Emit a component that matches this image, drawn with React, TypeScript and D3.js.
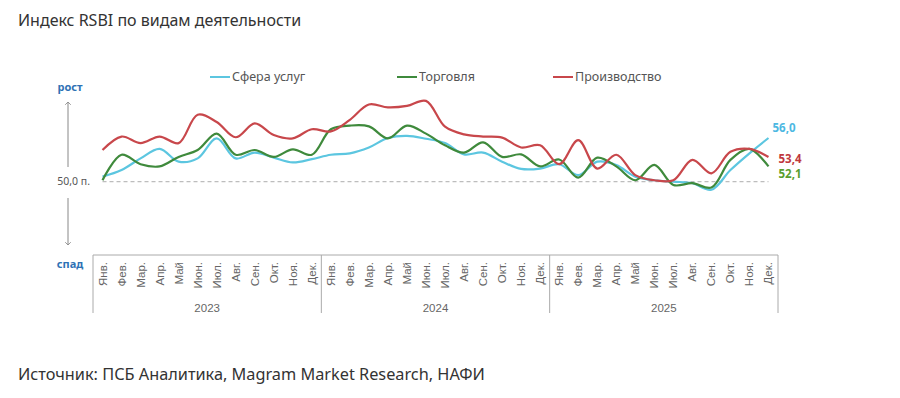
import React from "react";
import * as d3 from "d3";

// month labels and years on the x axis
const months = ["Янв.", "Фев.", "Мар.", "Апр.", "Май", "Июн.", "Июл.", "Авг.", "Сен.", "Окт.", "Ноя.", "Дек."];
const years = ["2023", "2024", "2025"];

// RSBI values (Jan 2023 .. Dec 2025)
const services = [
  50.7, 51.6, 53.2, 54.5, 52.75, 53.2, 55.95, 53.2, 54.0, 53.3, 52.65, 53.1,
  53.7, 53.9, 54.7, 56.0, 56.3, 55.9, 55.3, 53.75, 54.0, 52.75, 51.75, 51.8,
  52.4, 50.9, 52.75, 52.3, 50.7, 50.2, 50.0, 49.8, 48.9, 51.6, 53.9, 56.0,
];
const trade = [
  50.2, 53.7, 52.4, 52.1, 53.4, 54.35, 56.6, 53.7, 54.35, 53.4, 54.45, 53.7,
  57.2, 57.7, 57.6, 55.95, 57.7, 56.6, 55.0, 54.0, 55.4, 53.4, 53.75, 52.1,
  53.05, 50.55, 53.3, 52.1, 50.2, 52.3, 49.55, 49.8, 49.2, 53.0, 54.5, 52.1,
];
const production = [
  54.35, 56.2, 55.3, 56.2, 55.3, 59.2, 58.2, 56.1, 58.0, 56.4, 55.95, 57.2,
  56.9, 58.5, 60.6, 60.2, 60.4, 61.1, 57.55, 56.5, 56.2, 56.05, 54.7, 55.0,
  52.4, 55.7, 51.8, 53.7, 50.9, 50.2, 50.2, 53.0, 51.15, 54.1, 54.5, 53.4,
];

const seriesNames = ["Сфера услуг", "Торговля", "Производство"];
const colors = ["#5cc6e0", "#3f8a3c", "#c8474b"];
const labelColors = ["#4db8e2", "#c0393e", "#5a9e2e"];
const endLabels = ["56,0", "53,4", "52,1"];

const W = 900;
const H = 398;

export default function App() {
  const keys = years.flatMap((y) => months.map((m) => `${y}-${m}`));

  const x = d3.scaleBand<string>().domain(keys).range([93, 778]).padding(0);
  const bw = x.bandwidth();
  const cx = (i: number) => (x(keys[i]) as number) + bw / 2;

  const y = d3.scaleLinear().domain([50, 56]).range([181.7, 138]);

  const line = d3
    .line<number>()
    .x((_, i) => cx(i))
    .y((d) => y(d))
    .curve(d3.curveCatmullRom.alpha(0.5));

  const data = [services, trade, production];
  const lastX = cx(keys.length - 1);
  const sans = "'Noto Sans', sans-serif";
  const axisFont = "'Liberation Sans', Arial, sans-serif";

  const yearX = years.map((_, k) => x(keys[k * 12]) as number);

  return (
    <div style={{ position: "absolute", left: 0, top: 0 }}>
      <svg width={W} height={H} style={{ display: "block", background: "#fff" }}>
        {/* title */}
        <text x={18} y={26} fontFamily={sans} fontSize={16} fill="#333">
          Индекс RSBI по видам деятельности
        </text>

        {/* legend */}
        {seriesNames.map((name, k) => {
          const lx = [210, 397, 553][k];
          return (
            <g key={name}>
              <line x1={lx} x2={lx + 20} y1={77} y2={77} stroke={colors[k]} strokeWidth={2} />
              <text x={lx + 22} y={81} fontFamily={sans} fontSize={12.5} fill="#555">
                {name}
              </text>
            </g>
          );
        })}

        {/* growth / decline axis */}
        <defs>
          <marker id="arr" viewBox="0 0 10 10" refX={5} refY={5} markerWidth={7} markerHeight={7} orient="auto">
            <path d="M1,1 L5,5 L1,9" fill="none" stroke="#888" strokeWidth={1.2} />
          </marker>
        </defs>
        <text x={70} y={91} textAnchor="middle" fontFamily={sans} fontSize={11} fontWeight={700} fill="#2f72b5">
          рост
        </text>
        <line x1={68} x2={68} y1={167} y2={102} stroke="#888" strokeWidth={1} markerEnd="url(#arr)" />
        <text x={90} y={185} textAnchor="end" fontFamily={sans} fontSize={10.5} fill="#555">
          50,0 п.
        </text>
        <line x1={68} x2={68} y1={198} y2={245} stroke="#888" strokeWidth={1} markerEnd="url(#arr)" />
        <text x={70} y={268} textAnchor="middle" fontFamily={sans} fontSize={11} fontWeight={700} fill="#2f72b5">
          спад
        </text>

        {/* 50 baseline */}
        <line
          x1={cx(0)}
          x2={lastX}
          y1={y(50)}
          y2={y(50)}
          stroke="#bdbdbd"
          strokeWidth={1.2}
          strokeDasharray="4 3"
        />

        {/* series */}
        {data.map((vals, k) => (
          <path key={k} d={line(vals) || ""} fill="none" stroke={colors[k]} strokeWidth={2.2} />
        ))}

        {/* end labels */}
        {data.map((vals, k) => (
          <text
            key={k}
            x={k === 0 ? lastX + 4 : lastX + 10}
            y={[132, 163, 178][k]}
            fontFamily={sans}
            fontSize={11.5}
            fontWeight={700}
            fill={labelColors[k]}
          >
            {endLabels[k]}
          </text>
        ))}

        {/* category axis box */}
        <line x1={93} x2={778} y1={255} y2={255} stroke="#aaa" strokeWidth={1} />
        {[...yearX, 778].map((vx, k) => (
          <line key={k} x1={vx} x2={vx} y1={255} y2={313} stroke="#aaa" strokeWidth={1} />
        ))}
        {keys.map((key, i) => (
          <text
            key={key}
            transform={`translate(${cx(i) + 4},262) rotate(-90)`}
            textAnchor="end"
            fontFamily={axisFont}
            fontSize={11.5}
            fill="#666"
          >
            {months[i % 12]}
          </text>
        ))}
        {years.map((yr, k) => (
          <text
            key={yr}
            x={yearX[k] + bw * 6}
            y={312}
            textAnchor="middle"
            fontFamily={axisFont}
            fontSize={11.5}
            fill="#666"
          >
            {yr}
          </text>
        ))}

        {/* source */}
        <text x={18} y={380} fontFamily={sans} fontSize={16.3} fill="#333">
          Источник: ПСБ Аналитика, Magram Market Research, НАФИ
        </text>
      </svg>
    </div>
  );
}
